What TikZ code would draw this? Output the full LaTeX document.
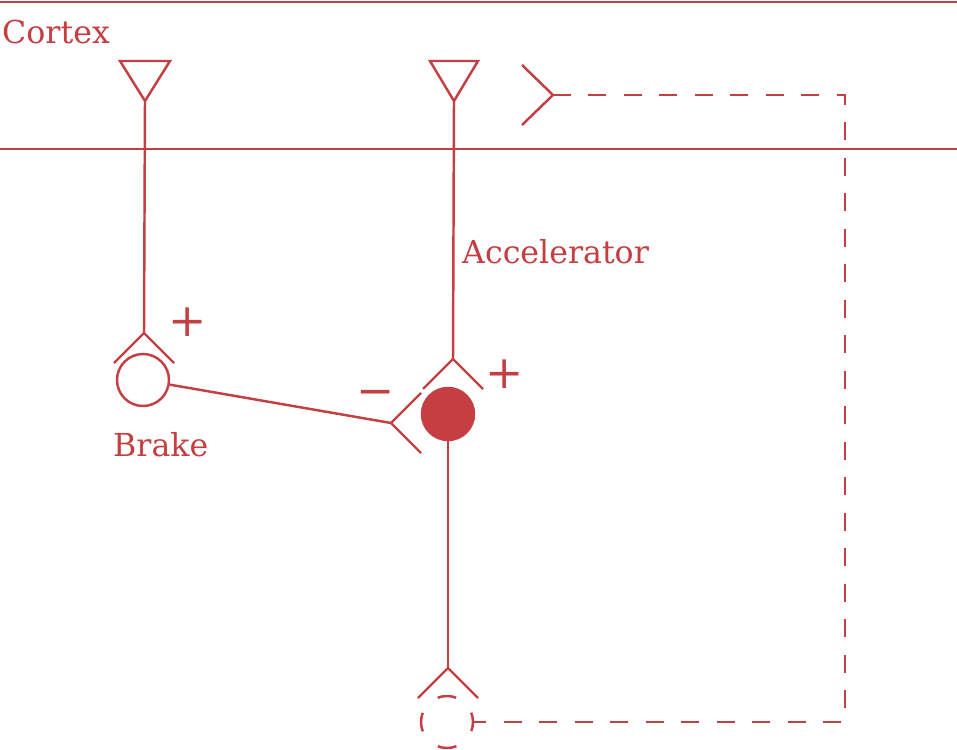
\documentclass[tikz,border=0pt]{standalone}
\usepackage{fontspec}
\setmainfont{DejaVu Serif}
\definecolor{nred}{RGB}{196,62,66}
\begin{document}
\begin{tikzpicture}[x=0.02cm, y=-0.02cm, line width=1.4pt, color=nred]
    \tikzset{lbl/.style={inner sep=0pt, font=\fontsize{18}{21}\selectfont},
             sgn/.style={inner sep=0pt, font=\fontsize{26}{29}\selectfont},
             soma/.style={circle, draw, inner sep=0pt, minimum size=1.04cm},
             dashline/.style={dash pattern=on 10.2pt off 10pt}}
    \useasboundingbox (0,0) rectangle (957,750);
    % cortex layer
    \draw (0,2) -- (957,2);
    \draw (0,149) -- (957,149);
    \node [lbl, anchor=base west] (cortex) at (1,44) {Cortex};
    % cortical terminals
    \coordinate (brakeTop) at (145,101);
    \coordinate (accTop) at (454,101);
    \draw (120,61) -- (170,61) -- (brakeTop) -- cycle;
    \draw (430,61) -- (478,61) -- (accTop) -- cycle;
    \coordinate (ctxIn) at (553,95);
    \draw (522,65) -- (ctxIn) -- (522,125);
    % brake
    \node [soma] (brake) at (143,380) {};
    \coordinate (brakeSyn) at (144,333);
    \draw (brakeTop) -- (brakeSyn);
    \draw (114,363) -- (brakeSyn) -- (174,363);
    \node [sgn] (brakePlus) at (188,322) {+};
    \node [lbl, anchor=base west] (brakeLbl) at (112,456) {Brake};
    % accelerator
    \node [soma, fill=nred] (acc) at (448,414) {};
    \coordinate (accSyn) at (453,359);
    \draw (accTop) -- (accSyn);
    \draw (423,389) -- (accSyn) -- (483,389);
    \node [sgn] (accPlus) at (505,374) {+};
    \node [lbl, anchor=base west] (accLbl) at (461,263) {Accelerator};
    \coordinate (accInh) at (391,423);
    \draw (421,393) -- (accInh) -- (421,453);
    \draw (brake) -- (accInh);
    \node [sgn] (accMinus) at (376,398) {\char"2212};
    % output
    \node [soma, dash pattern=on 10.8pt off 12.44pt, dash phase=5.4pt] (out) at (447,722) {};
    \coordinate (outSyn) at (448,668);
    \draw (acc) -- (outSyn);
    \draw (418,698) -- (outSyn) -- (478,698);
    \draw [dashline] (ctxIn) -- (845,95) |- (out);
\end{tikzpicture}
\end{document}
